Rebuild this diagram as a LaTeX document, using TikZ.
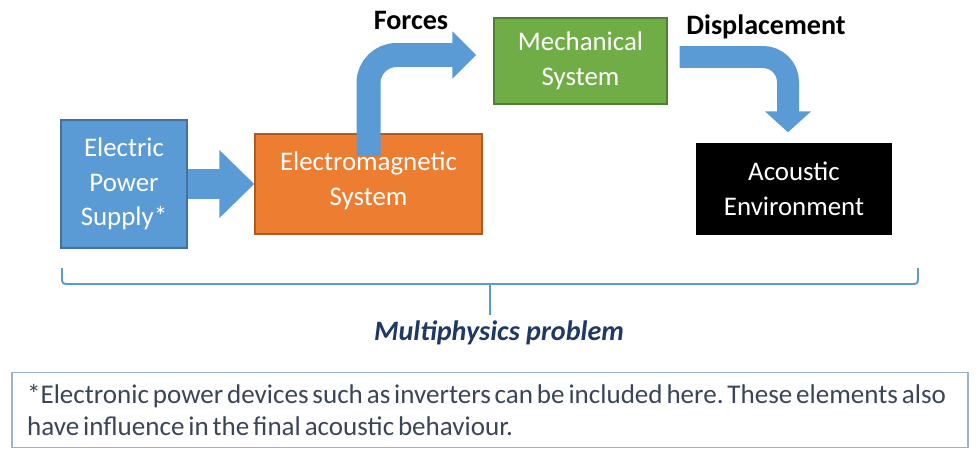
\documentclass[tikz,border=0pt]{standalone}
\usepackage{fontspec}
\setmainfont{Carlito}
\usetikzlibrary{arrows.meta}
\definecolor{boxblue}{HTML}{5B9BD5}
\definecolor{edgeblue}{HTML}{41719C}
\definecolor{boxorange}{HTML}{ED7D31}
\definecolor{edgeorange}{HTML}{AE5A21}
\definecolor{boxgreen}{HTML}{70AD47}
\definecolor{edgegreen}{HTML}{507E32}
\definecolor{navy}{HTML}{1F3864}
\definecolor{notetext}{HTML}{3A4658}
\definecolor{noteedge}{HTML}{9DB3C8}
\newcommand{\tightspaces}{\frenchspacing\spaceskip=2.2pt plus 0.5pt\relax}

\begin{document}
\begin{tikzpicture}[x=0.02cm, y=-0.02cm,
  block/.style={draw, line width=0.8pt, text=white, align=center,
    font=\fontsize{15.3}{19.8}\selectfont, inner sep=0pt},
  bigarrow/.style={boxblue, line width=#1},
  label/.style={font=\fontsize{16}{19}\selectfont\bfseries}]
\useasboundingbox (0,0) rectangle (977,453);

\node[block, fill=boxblue, draw=edgeblue, minimum width=2.52cm, minimum height=2.56cm] (eps) at (124,184) {Electric\\Power\\Supply*};
\node[block, fill=boxorange, draw=edgeorange, minimum width=4.54cm, minimum height=2cm] (em) at (368.5,184) {Electromagnetic\\System\rule[-6pt]{0pt}{1pt}};
\node[block, fill=boxgreen, draw=edgegreen, minimum width=3.46cm, minimum height=1.72cm] (mech) at (580.5,61) {Mechanical\\System};
\node[block, fill=black, draw=black, minimum width=3.88cm, minimum height=1.8cm] (acou) at (794,189) {Acoustic\\Environment};

\coordinate (fstart) at ([yshift=-13]em.north);
\coordinate (ftip) at ([shift={(-17,-6)}]mech.west);
\coordinate (dstart) at ([shift={(12,-4)}]mech.east);
\coordinate (dtip) at ([shift={(-6,-11)}]acou.north);

\draw[bigarrow=0.6cm, -{Triangle[length=0.7cm, width=1.32cm]}] (eps.east) -- (em.west);
\draw[bigarrow=0.48cm, rounded corners=0.56cm, -{Triangle[length=0.48cm, width=0.92cm]}] (fstart) |- (ftip);
\draw[bigarrow=0.44cm, rounded corners=0.5cm, -{Triangle[length=0.42cm, width=0.9cm]}] (dstart) -| (dtip);

\node[label] (forces) at (411,20) {Forces};
\node[label] (disp) at (766,27) {Displacement};

% brace under the chain
\node[font=\fontsize{16}{19}\selectfont\bfseries\itshape, text=navy] (multi) at (499,333) {Multiphysics problem};
\coordinate (bmid) at (490,284);
\draw[boxblue, line width=1.1pt, rounded corners=2pt] (62,268) |- (bmid) -| (918,268);
\draw[boxblue, line width=1.1pt] (bmid) -- (multi.north -| bmid);

\node[draw=noteedge, line width=0.8pt, text=notetext, minimum width=19.12cm, minimum height=1.5cm,
  text width=18.52cm, inner xsep=0.3cm, align=left, font=\fontsize{15.4}{18.4}\selectfont] (note) at (490,410)
  {\tightspaces *Electronic power devices such as inverters can be included here. These elements also\\
   have influence in the final acoustic behaviour.};
\end{tikzpicture}
\end{document}
